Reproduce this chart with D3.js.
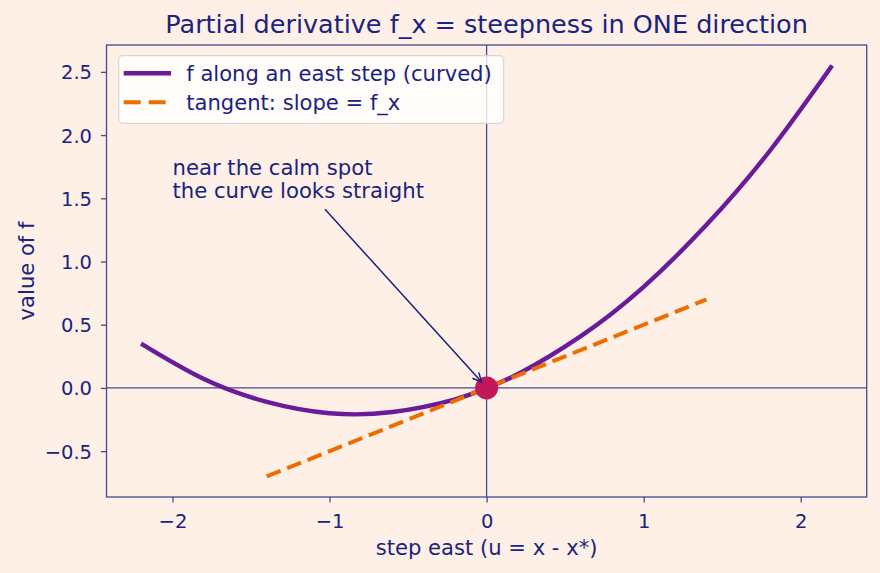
<!DOCTYPE html>
<html>
<head>
<meta charset="utf-8">
<script src="https://cdn.jsdelivr.net/npm/d3@7"></script>
<style>
  html, body { margin: 0; padding: 0; background: #fef0e6; }
  svg { display: block; }
  text { font-family: "DejaVu Sans", sans-serif; fill: #1a237e; }
</style>
</head>
<body>
<svg id="chart" width="880" height="573"></svg>
<script>
// ---- data ----
const curveU = [-2.2, -1.8, -1.4, -1.0, -0.6, -0.2, 0, 0.2, 0.6, 1.0, 1.4, 1.8, 2.2];
const curveF = [0.35, 0.07, -0.11, -0.20, -0.19, -0.09, 0, 0.11, 0.41, 0.80, 1.29, 1.87, 2.55];
const tangentU = [-1.4, 1.4];
const tangentF = [-0.7, 0.7];
const pointU = [0];
const pointF = [0];
const xTicks = [-2, -1, 0, 1, 2];
const yTicks = [-0.5, 0.0, 0.5, 1.0, 1.5, 2.0, 2.5];
const legendLabels = ["f along an east step (curved)", "tangent: slope = f_x"];
const titleText = "Partial derivative f_x = steepness in ONE direction";
const xLabel = "step east (u = x - x*)";
const yLabel = "value of f";
const noteLines = ["near the calm spot", "the curve looks straight"];
const noteAt = [-2.0, 1.5];

// ---- styles ----
const C = {
  text: "#1a237e", spine: "#474b8e", curve: "#6a1b9a", tangent: "#ef6c00",
  dot: "#c2185b"
};
const L = 106.5, R = 866.7, T = 45, B = 497;

const svg = d3.select("#chart");
svg.append("rect").attr("width", 880).attr("height", 573).attr("fill", "#fef0e6");

const x = d3.scaleLinear().domain([-2.42, 2.42]).range([L, R]);
const y = d3.scaleLinear().domain([-0.8625, 2.7125]).range([B, T]);

// zero lines
svg.append("line").attr("x1", L).attr("x2", R).attr("y1", y(0)).attr("y2", y(0))
  .attr("stroke", C.spine).attr("stroke-width", 1.3);
svg.append("line").attr("x1", x(0)).attr("x2", x(0)).attr("y1", T).attr("y2", B)
  .attr("stroke", C.spine).attr("stroke-width", 1.3);

// curve
const curvePts = curveU.map((u, i) => [u, curveF[i]]);
svg.append("path").datum(curvePts)
  .attr("d", d3.line().x(d => x(d[0])).y(d => y(d[1])).curve(d3.curveNatural))
  .attr("fill", "none").attr("stroke", C.curve).attr("stroke-width", 4.4);

// tangent
const tanPts = tangentU.map((u, i) => [u, tangentF[i]]);
svg.append("path").datum(tanPts)
  .attr("d", d3.line().x(d => x(d[0])).y(d => y(d[1])))
  .attr("fill", "none").attr("stroke", C.tangent).attr("stroke-width", 4)
  .attr("stroke-dasharray", "15,7");

// point
svg.selectAll("circle.pt").data(pointU.map((u, i) => [u, pointF[i]])).enter()
  .append("circle").attr("class", "pt")
  .attr("cx", d => x(d[0])).attr("cy", d => y(d[1])).attr("r", 11.5)
  .attr("fill", C.dot);

// annotation arrow
const ax0 = 325, ay0 = 209.3;
const ax1 = x(pointU[0]) - 5, ay1 = y(pointF[0]) - 6;
svg.append("line").attr("x1", ax0).attr("y1", ay0).attr("x2", ax1).attr("y2", ay1)
  .attr("stroke", C.text).attr("stroke-width", 1.5);
{
  const ang = Math.atan2(ay1 - ay0, ax1 - ax0);
  const hl = 10, hw = 0.45;
  const p1 = [ax1 - hl * Math.cos(ang - hw), ay1 - hl * Math.sin(ang - hw)];
  const p2 = [ax1 - hl * Math.cos(ang + hw), ay1 - hl * Math.sin(ang + hw)];
  svg.append("path").attr("d", `M${p1[0]},${p1[1]}L${ax1},${ay1}L${p2[0]},${p2[1]}`)
    .attr("fill", "none").attr("stroke", C.text).attr("stroke-width", 1.5);
}
const note = svg.append("text").attr("font-size", 21.2)
  .attr("x", x(noteAt[0])).attr("y", y(noteAt[1]));
noteLines.forEach((t, i) => {
  note.append("tspan").attr("x", x(noteAt[0]))
    .attr("y", y(noteAt[1]) - (noteLines.length - 1 - i) * 23).text(t);
});

// frame
svg.append("rect").attr("x", L).attr("y", T).attr("width", R - L).attr("height", B - T)
  .attr("fill", "none").attr("stroke", C.spine).attr("stroke-width", 1.3);

// axes
const gx = svg.append("g").attr("transform", `translate(0,${B})`)
  .call(d3.axisBottom(x).tickValues(xTicks).tickFormat(d3.format("d")).tickSize(5.5));
gx.select(".domain").remove();
gx.selectAll(".tick line").attr("stroke", C.spine).attr("stroke-width", 1.3);
gx.selectAll(".tick text").attr("y", 31).attr("dy", null)
  .attr("font-size", 19.5).attr("fill", C.text).attr("font-family", "DejaVu Sans");

const gy = svg.append("g").attr("transform", `translate(${L},0)`)
  .call(d3.axisLeft(y).tickValues(yTicks).tickFormat(d3.format(".1f")).tickSize(5.5));
gy.select(".domain").remove();
gy.selectAll(".tick line").attr("stroke", C.spine).attr("stroke-width", 1.3);
gy.selectAll(".tick text").attr("x", -14.5).attr("dy", "0.36em")
  .attr("font-size", 19.5).attr("fill", C.text).attr("font-family", "DejaVu Sans");

// labels
svg.append("text").attr("x", (L + R) / 2).attr("y", 555).attr("text-anchor", "middle")
  .attr("font-size", 21.1).text(xLabel);
svg.append("text").attr("transform", `translate(34,${(T + B) / 2}) rotate(-90)`)
  .attr("text-anchor", "middle").attr("font-size", 21.1).text(yLabel);
svg.append("text").attr("x", (L + R) / 2).attr("y", 33).attr("text-anchor", "middle")
  .attr("font-size", 25.5).text(titleText);

// legend
const lg = svg.append("g");
lg.append("rect").attr("x", 118.7).attr("y", 55.7).attr("width", 385).attr("height", 67.6)
  .attr("rx", 4).attr("fill", "#ffffff").attr("fill-opacity", 0.8)
  .attr("stroke", "#d6d6d6").attr("stroke-width", 1.2);
const legStyles = [
  { color: C.curve, w: 4.4, dash: null },
  { color: C.tangent, w: 4, dash: "17,8" }
];
legendLabels.forEach((lab, i) => {
  const cy = 73.3 + i * 29;
  lg.append("line").attr("x1", 123.7).attr("x2", 171).attr("y1", cy).attr("y2", cy)
    .attr("stroke", legStyles[i].color).attr("stroke-width", legStyles[i].w)
    .attr("stroke-dasharray", legStyles[i].dash);
  lg.append("text").attr("x", 186.3).attr("y", cy + 7.3).attr("font-size", 21.1).text(lab);
});
</script>
</body>
</html>
